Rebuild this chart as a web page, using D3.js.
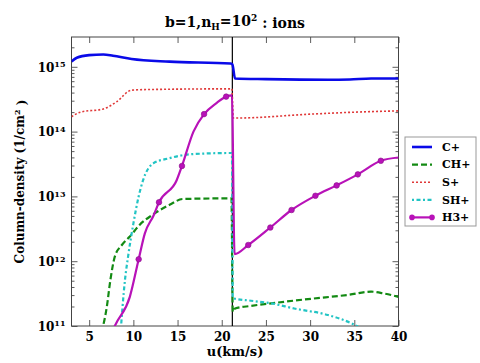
<!doctype html>
<html>
<head>
	<meta charset="UTF-8">
	<script src="https://d3js.org/d3.v7.min.js"></script>
	<style>
		body { margin: 0; background: #fff; }
		text { font-family: "DejaVu Serif", "Liberation Serif", serif; font-weight: bold; }
	</style>
</head>
<body>
	<script>
		// u (km/s) vs log10 column density
		var cPlus  = [[3.0,15.08],[3.6,15.14],[5.0,15.18],[6.6,15.19],[7.7,15.17],[9.8,15.12],[14.1,15.08],[21.0,15.05],[21.2,15.04],[21.5,14.82],[25.0,14.81],[32.0,14.80],[34.5,14.805],[36.9,14.82],[40.0,14.82]];
		var chPlus = [[6.4,10.9],[7.0,11.3],[7.4,11.71],[7.9,12.07],[8.7,12.25],[9.6,12.38],[10.7,12.56],[12.1,12.71],[14.1,12.87],[15.6,12.96],[21.1,12.97],[21.25,11.22],[21.5,11.27],[23.3,11.31],[25.6,11.35],[30.1,11.42],[34.3,11.48],[36.9,11.53],[38.4,11.50],[40.0,11.45]];
		var sPlus  = [[3.0,14.23],[4.0,14.30],[6.6,14.35],[8.1,14.46],[9.8,14.64],[12.0,14.65],[21.15,14.66],[21.3,14.21],[21.8,14.21],[30.1,14.27],[35.0,14.30],[40.0,14.32]];
		var shPlus = [[8.5,10.8],[9.05,11.71],[9.4,12.07],[10.0,12.58],[10.6,13.0],[11.1,13.25],[12.25,13.51],[14.1,13.59],[16.4,13.65],[21.15,13.67],[21.25,11.43],[23.3,11.39],[25.6,11.35],[28.2,11.27],[32.0,11.17],[35.0,11.02],[36.5,10.9]];
		var h3Plus = [[7.6,10.9],[7.9,11.0],[9.6,11.45],[10.6,12.03],[11.3,12.43],[12.3,12.71],[12.9,12.91],[14.9,13.25],[15.5,13.47],[16.8,14.00],[18.0,14.27],[19.4,14.44],[20.5,14.54],[21.15,14.56],[21.45,12.11],[23.0,12.25],[25.5,12.52],[27.9,12.79],[30.6,13.01],[33.0,13.17],[35.4,13.34],[38.0,13.55],[40.0,13.60]];
		var h3Markers = [10.6,12.9,15.5,18.0,20.5,23.0,25.5,27.9,30.6,33.0,35.4,38.0];

		var seriesNames = ["C+","CH+","S+","SH+","H3+"];
		var seriesData = [cPlus, chPlus, sPlus, shPlus, h3Plus];
		var seriesColors = ["#0a0ae8","#138a13","#e03838","#22c4c4","#b812b8"];
		var seriesDash = ["", "6,3", "2,2", "2,2.5,4,2.5", ""];
		var seriesWidth = [2.6, 2.2, 1.6, 2.2, 2.2];

		var xTicks = [5,10,15,20,25,30,35,40];
		var yDecades = [11,12,13,14,15];
		var shockU = 21.2;

		var width = 480, height = 363;
		var margin = {top: 37, right: 81.5, bottom: 37, left: 71.5};
		var plotW = width - margin.left - margin.right,
			plotH = height - margin.top - margin.bottom;

		var svg = d3.select("body").append("svg")
			.attr("width", width)
			.attr("height", height);

		var x = d3.scaleLinear().domain([3, 40]).range([0, plotW]);
		var y = d3.scaleLog().domain([1e11, Math.pow(10, 15.46)]).range([plotH, 0]);

		var g = svg.append("g")
			.attr("transform", "translate(" + margin.left + "," + margin.top + ")");

		svg.append("defs").append("clipPath").attr("id", "clip")
			.append("rect").attr("width", plotW).attr("height", plotH);

		// minor ticks for log axis
		var minors = [];
		yDecades.forEach(function(d) {
			for (var k = 2; k < 10; k++) {
				var v = k * Math.pow(10, d);
				if (v < y.domain()[1]) minors.push(v);
			}
		});
		var majors = yDecades.map(function(d) { return Math.pow(10, d); });

		function styleAxis(sel) {
			sel.select(".domain").remove();
			sel.selectAll("line").attr("stroke", "#333").attr("stroke-width", 0.8);
		}

		// left / right y ticks
		g.append("g").call(d3.axisLeft(y).tickValues(minors).tickSize(-3).tickFormat("")).call(styleAxis);
		g.append("g").attr("transform", "translate(" + plotW + ",0)")
			.call(d3.axisRight(y).tickValues(minors).tickSize(-3).tickFormat("")).call(styleAxis);
		g.append("g").attr("transform", "translate(" + plotW + ",0)")
			.call(d3.axisRight(y).tickValues(majors).tickSize(-6).tickFormat("")).call(styleAxis);
		var yAxis = g.append("g")
			.call(d3.axisLeft(y).tickValues(majors).tickSize(-6).tickPadding(6).tickFormat(""))
			.call(styleAxis);
		yAxis.selectAll(".tick").each(function(d) {
			var t = d3.select(this).append("text")
				.attr("x", -6).attr("dy", "0.35em")
				.attr("fill", "#000")
				.attr("text-anchor", "end")
				.style("font-size", "12px");
			t.append("tspan").text("10");
			t.append("tspan").attr("dy", "-0.55em").style("font-size", "8px").text(Math.round(Math.log10(d)));
		});

		// x ticks bottom/top
		g.append("g").attr("transform", "translate(0," + plotH + ")")
			.call(d3.axisBottom(x).tickValues(xTicks).tickSize(-6).tickPadding(6).tickFormat(d3.format("d")))
			.call(styleAxis)
			.selectAll("text").attr("fill", "#000").style("font-size", "12px");
		g.append("g")
			.call(d3.axisTop(x).tickValues(xTicks).tickSize(-6).tickFormat(""))
			.call(styleAxis);

		// frame
		g.append("rect").attr("width", plotW).attr("height", plotH)
			.attr("fill", "none").attr("stroke", "#444").attr("stroke-width", 1);

		var line = d3.line()
			.curve(d3.curveMonotoneX)
			.x(function(d) { return x(d[0]); })
			.y(function(d) { return y(Math.pow(10, d[1])); });

		var plot = g.append("g").attr("clip-path", "url(#clip)");

		// shock position
		plot.append("line")
			.attr("x1", x(shockU)).attr("x2", x(shockU))
			.attr("y1", 0).attr("y2", plotH)
			.attr("stroke", "#000").attr("stroke-width", 1.2);

		var order = [1, 3, 2, 4, 0];
		order.forEach(function(i) {
			plot.append("path")
				.datum(seriesData[i])
				.attr("d", line)
				.attr("fill", "none")
				.attr("stroke", seriesColors[i])
				.attr("stroke-width", seriesWidth[i])
				.attr("stroke-dasharray", seriesDash[i] || null)
				.attr("stroke-linejoin", "round");
		});

		plot.selectAll(".h3m")
			.data(h3Plus.filter(function(d) { return h3Markers.indexOf(d[0]) >= 0; }))
			.enter().append("circle")
			.attr("cx", function(d) { return x(d[0]); })
			.attr("cy", function(d) { return y(Math.pow(10, d[1])); })
			.attr("r", 2.8)
			.attr("fill", seriesColors[4])
			.attr("stroke", "#8a108a")
			.attr("stroke-width", 0.6);

		// title
		var title = svg.append("text")
			.attr("x", margin.left + plotW / 2).attr("y", 27)
			.attr("text-anchor", "middle")
			.style("font-size", "14px");
		title.append("tspan").text("b=1,n");
		title.append("tspan").attr("dy", "0.3em").style("font-size", "9px").text("H");
		title.append("tspan").attr("dy", "-0.3em").text("=10");
		title.append("tspan").attr("dy", "-0.45em").style("font-size", "9px").text("2");
		title.append("tspan").attr("dy", "0.45em").text(" : ions");

		// axis labels
		svg.append("text")
			.attr("x", margin.left + plotW / 2).attr("y", 356)
			.attr("text-anchor", "middle")
			.style("font-size", "13px")
			.text("u(km/s)");

		var yl = svg.append("text")
			.attr("transform", "translate(24," + (margin.top + plotH / 2) + ") rotate(-90)")
			.attr("text-anchor", "middle")
			.style("font-size", "12px");
		yl.append("tspan").text("Column-density (1/cm");
		yl.append("tspan").attr("dy", "-0.45em").style("font-size", "8px").text("2");
		yl.append("tspan").attr("dy", "0.45em").text(" )");

		// legend
		var legend = svg.append("g").attr("transform", "translate(405,137)");
		legend.append("rect")
			.attr("width", 71).attr("height", 89)
			.attr("fill", "#fff").attr("stroke", "#999").attr("stroke-width", 1);
		seriesNames.forEach(function(name, i) {
			var row = legend.append("g").attr("transform", "translate(0," + (10 + i * 17.6) + ")");
			row.append("line")
				.attr("x1", 7).attr("x2", 27)
				.attr("stroke", seriesColors[i])
				.attr("stroke-width", seriesWidth[i])
				.attr("stroke-dasharray", seriesDash[i] || null);
			if (i === 4) {
				row.selectAll("circle").data([7, 27]).enter().append("circle")
					.attr("cx", function(d) { return d; }).attr("r", 2.8)
					.attr("fill", seriesColors[4]);
			}
			row.append("text")
				.attr("x", 37).attr("dy", "0.35em")
				.style("font-size", "11px")
				.text(name);
		});
	</script>
</body>
</html>
